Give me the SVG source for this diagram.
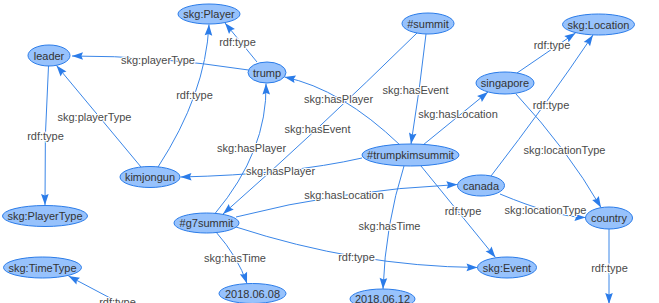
<svg xmlns="http://www.w3.org/2000/svg" width="659" height="303" viewBox="0 0 659 303">
  <style>
    .node ellipse { fill: #97C2FC; stroke: #2B7CE9; stroke-width: 1; }
    .node text { font-family: "Liberation Sans", Arial, sans-serif; font-size: 11px; fill: #333333; text-anchor: middle; }
    .edge { fill: none; stroke: #3a86e8; stroke-width: 1; marker-end: url(#arrow); }
    .elabel { font-family: "Liberation Sans", Arial, sans-serif; font-size: 11px; fill: #4a4a4a; text-anchor: middle;
              stroke: #ffffff; stroke-width: 2; paint-order: stroke; stroke-linejoin: round; }
  </style>
  <defs>
    <marker id="arrow" viewBox="-12 -5 13 10" refX="0" refY="0" markerWidth="13" markerHeight="10"
            markerUnits="userSpaceOnUse" orient="auto">
      <path d="M0,0 L-11,-3.8 L-9.4,0 L-11,3.8 Z" fill="#2B7CE9"/>
    </marker>
  </defs>
  <rect width="659" height="303" fill="#ffffff"/>

  <!-- connectors -->
  <g id="edges">
    <path class="edge" d="M257,62 L225,23"/>
    <path class="edge" d="M248.5,70 Q155.5,55.6 72,56"/>
    <path class="edge" d="M141,167 L56.5,65.5"/>
    <path class="edge" d="M158,167 Q205.5,94 209,24.5"/>
    <path class="edge" d="M48.5,66 Q44,135.5 45,205"/>
    <path class="edge" d="M215,213.5 Q267.5,151 266,83.5"/>
    <path class="edge" d="M400,145 Q341.5,89 284.5,77"/>
    <path class="edge" d="M417,33 Q314,134 223,214"/>
    <path class="edge" d="M426,34 Q420,88 411,144"/>
    <path class="edge" d="M423,145 L488,92"/>
    <path class="edge" d="M362,158 Q289.5,174.5 180.5,177"/>
    <path class="edge" d="M236,217 Q340.5,190 457.5,184.5"/>
    <path class="edge" d="M216,232 Q238,257 247,283.5"/>
    <path class="edge" d="M236,227 Q357,266.4 477.5,267.5"/>
    <path class="edge" d="M404,166 Q385.4,224.5 383,289"/>
    <path class="edge" d="M421,166 L495.5,257.5"/>
    <path class="edge" d="M517,73 L575.5,33"/>
    <path class="edge" d="M491,176 Q548,102 593,35"/>
    <path class="edge" d="M516,94 Q567.5,149.5 601,207.5"/>
    <path class="edge" d="M500,194 Q555,217 585.5,217.5"/>
    <path class="edge" d="M609,229 L609,304"/>
    <path class="edge" d="M165,327 L68.5,276"/>

    <text class="elabel" x="237.5" y="46">rdf:type</text>
    <text class="elabel" x="158" y="63.5">skg:playerType</text>
    <text class="elabel" x="94.5" y="120.5">skg:playerType</text>
    <text class="elabel" x="194.5" y="98.5">rdf:type</text>
    <text class="elabel" x="45.5" y="139.5">rdf:type</text>
    <text class="elabel" x="251.5" y="151.5">skg:hasPlayer</text>
    <text class="elabel" x="338.5" y="103">skg:hasPlayer</text>
    <text class="elabel" x="317.5" y="132.5">skg:hasEvent</text>
    <text class="elabel" x="415.5" y="93.5">skg:hasEvent</text>
    <text class="elabel" x="458" y="117.5">skg:hasLocation</text>
    <text class="elabel" x="280.5" y="175">skg:hasPlayer</text>
    <text class="elabel" x="344" y="198.5">skg:hasLocation</text>
    <text class="elabel" x="235" y="261.5">skg:hasTime</text>
    <text class="elabel" x="356.5" y="260.5">rdf:type</text>
    <text class="elabel" x="389.5" y="230">skg:hasTime</text>
    <text class="elabel" x="463" y="215">rdf:type</text>
    <text class="elabel" x="552" y="48.5">rdf:type</text>
    <text class="elabel" x="551" y="108.5">rdf:type</text>
    <text class="elabel" x="564.5" y="154">skg:locationType</text>
    <text class="elabel" x="545.5" y="213.5">skg:locationType</text>
    <text class="elabel" x="609.5" y="271.5">rdf:type</text>
    <text class="elabel" x="117.5" y="306">rdf:type</text>
  </g>

  <!-- nodes -->
  <g id="n-player" class="node"><ellipse cx="209" cy="14" rx="31" ry="10"/><text x="209" y="18">skg:Player</text></g>
  <g id="n-leader" class="node"><ellipse cx="49" cy="55.5" rx="21" ry="10.5"/><text x="49" y="59.5">leader</text></g>
  <g id="n-trump" class="node"><ellipse cx="267" cy="72.5" rx="19" ry="10.5"/><text x="267" y="76.5">trump</text></g>
  <g id="n-summit" class="node"><ellipse cx="428" cy="23.5" rx="26" ry="10.5"/><text x="428" y="27.5">#summit</text></g>
  <g id="n-location" class="node"><ellipse cx="598.5" cy="24.5" rx="36" ry="10.5"/><text x="598.5" y="28.5">skg:Location</text></g>
  <g id="n-singapore" class="node"><ellipse cx="505" cy="83" rx="29" ry="11"/><text x="505" y="87">singapore</text></g>
  <g id="n-kimjongun" class="node"><ellipse cx="150" cy="177" rx="30" ry="10.5"/><text x="150" y="181">kimjongun</text></g>
  <g id="n-playertype" class="node"><ellipse cx="45" cy="216" rx="42.5" ry="10.5"/><text x="45" y="220">skg:PlayerType</text></g>
  <g id="n-g7summit" class="node"><ellipse cx="206.5" cy="223" rx="32.5" ry="10"/><text x="206.5" y="227">#g7summit</text></g>
  <g id="n-timetype" class="node"><ellipse cx="42.5" cy="267.5" rx="39" ry="10.5"/><text x="42.5" y="271.5">skg:TimeType</text></g>
  <g id="n-date0608" class="node"><ellipse cx="252.5" cy="293.5" rx="33.5" ry="10"/><text x="252.5" y="297.5">2018.06.08</text></g>
  <g id="n-trumpkimsummit" class="node"><ellipse cx="410.5" cy="155" rx="48.5" ry="11"/><text x="410.5" y="159">#trumpkimsummit</text></g>
  <g id="n-canada" class="node"><ellipse cx="481" cy="185.5" rx="23.5" ry="10.5"/><text x="481" y="189.5">canada</text></g>
  <g id="n-country" class="node"><ellipse cx="609" cy="218" rx="23.5" ry="11"/><text x="609" y="222">country</text></g>
  <g id="n-event" class="node"><ellipse cx="507" cy="267.5" rx="29.5" ry="10.5"/><text x="507" y="271.5">skg:Event</text></g>
  <g id="n-date0612" class="node"><ellipse cx="382.5" cy="299" rx="32.5" ry="10"/><text x="382.5" y="303">2018.06.12</text></g>
</svg>
